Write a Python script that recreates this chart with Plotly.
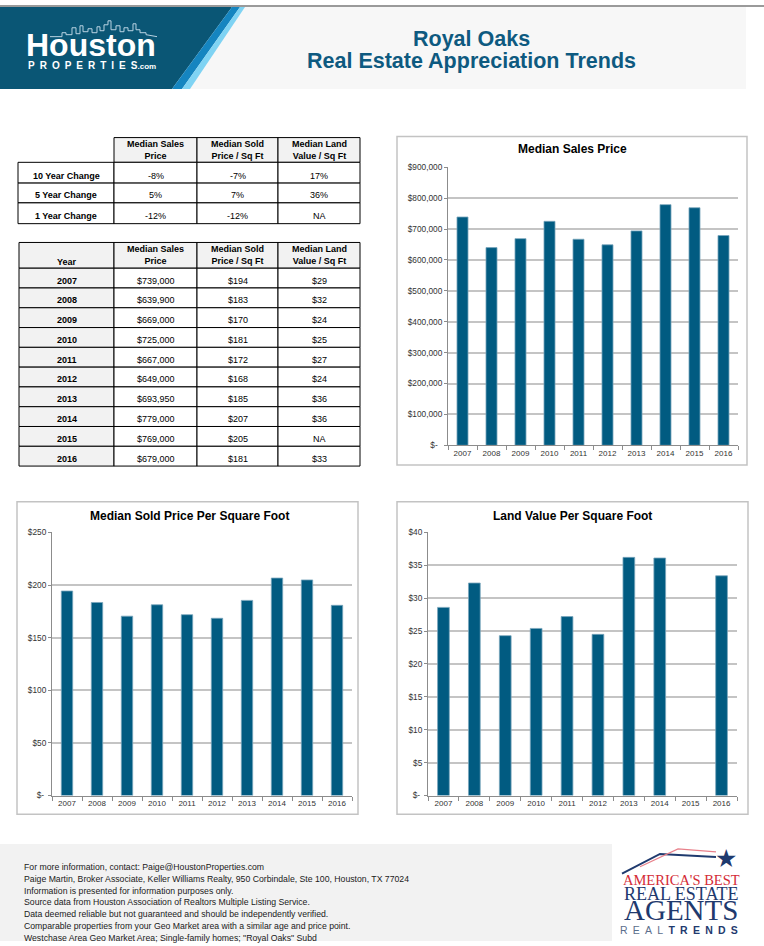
import plotly.graph_objects as go

W, H = 764, 946


def X(px):
    return px / W


def Y(py):
    return 1 - py / H


# ---------------- data ----------------
years = ["2007", "2008", "2009", "2010", "2011", "2012", "2013", "2014", "2015", "2016"]
median_sales_price = [739000, 639900, 669000, 725000, 667000, 649000, 693950, 779000, 769000, 679000]
sold_price_sqft = [194.3, 183.4, 170.4, 181.2, 171.8, 168.4, 185.4, 206.6, 204.8, 180.7]
land_value_sqft = [28.6, 32.3, 24.3, 25.4, 27.2, 24.5, 36.2, 36.1, None, 33.4]

sales_ticks = [0, 100000, 200000, 300000, 400000, 500000, 600000, 700000, 800000, 900000]
sales_tick_text = ["$-\u00a0\u00a0", "$100,000", "$200,000", "$300,000", "$400,000", "$500,000",
                   "$600,000", "$700,000", "$800,000", "$900,000"]
sqft_ticks = [0, 50, 100, 150, 200, 250]
sqft_tick_text = ["$-\u00a0", "$50", "$100", "$150", "$200", "$250"]
land_ticks = [0, 5, 10, 15, 20, 25, 30, 35, 40]
land_tick_text = ["$-\u00a0", "$5", "$10", "$15", "$20", "$25", "$30", "$35", "$40"]

table_headers = ["Median Sales<br>Price", "Median Sold<br>Price / Sq Ft", "Median Land<br>Value / Sq Ft"]
change_rows = ["10 Year Change", "5 Year Change", "1 Year Change"]
change_sales = ["-8%", "5%", "-12%"]
change_sqft = ["-7%", "7%", "-12%"]
change_land = ["17%", "36%", "NA"]

tbl_sales = ["$739,000", "$639,900", "$669,000", "$725,000", "$667,000",
             "$649,000", "$693,950", "$779,000", "$769,000", "$679,000"]
tbl_sqft = ["$194", "$183", "$170", "$181", "$172", "$168", "$185", "$207", "$205", "$181"]
tbl_land = ["$29", "$32", "$24", "$25", "$27", "$24", "$36", "$36", "NA", "$33"]

footer_lines = [
    "For more information, contact: Paige@HoustonProperties.com",
    "Paige Martin, Broker Associate, Keller Williams Realty, 950 Corbindale, Ste 100, Houston, TX 77024",
    "Information is presented for information purposes only.",
    "Source data from Houston Association of Realtors Multiple Listing Service.",
    "Data deemed reliable but not guaranteed and should be independently verified.",
    "Comparable properties from your Geo Market area with a similar age and price point.",
    "Westchase Area Geo Market Area; Single-family homes; \"Royal Oaks\" Subd",
]

# ---------------- styles ----------------
FONT = "Liberation Sans, Arial, sans-serif"
SERIF = "Liberation Serif, Times New Roman, serif"
BAR = "#015b81"
BAR_EDGE = "#7aa6bd"
NAVY_TITLE = "#0e5a80"
GRID = "#c4c4c4"
AXIS = "#8c8c8c"

shapes = []
annotations = []


def rect(x0, y0, x1, y1, fill=None, line=None, lw=1, layer="below"):
    shapes.append(dict(type="rect", xref="paper", yref="paper",
                       x0=X(x0), x1=X(x1), y0=Y(y1), y1=Y(y0),
                       fillcolor=fill if fill else "rgba(0,0,0,0)",
                       line=dict(color=line if line else "rgba(0,0,0,0)", width=lw if line else 0),
                       layer=layer))


def poly(points, fill=None, line=None, lw=1, closed=True):
    d = "M " + " L ".join(f"{X(a):.5f} {Y(b):.5f}" for a, b in points)
    if closed:
        d += " Z"
    shapes.append(dict(type="path", xref="paper", yref="paper", path=d,
                       fillcolor=fill if fill else "rgba(0,0,0,0)",
                       line=dict(color=line if line else "rgba(0,0,0,0)", width=lw if line else 0),
                       layer="below"))


def text(x, y, s, size=9, color="#000", bold=False, xanchor="center", font=FONT, yanchor="middle"):
    annotations.append(dict(x=X(x), y=Y(y), xref="paper", yref="paper", text=(f"<b>{s}</b>" if bold else s),
                            showarrow=False, xanchor=xanchor, yanchor=yanchor,
                            font=dict(family=font, size=size, color=color)))


# ---------------- header ----------------
rect(0, 0, 764, 2, fill="#9a9a9a")
rect(185, 2, 746, 85, fill="#f7f7f7")
poly([(0, 2), (232, 2), (172, 85), (0, 85)], fill="#0a5675")
poly([(232, 2), (240, 2), (182, 85), (172, 85)], fill="#1585c0")
poly([(240, 2), (245, 2), (190, 85), (182, 85)], fill="#7fd3f3")

skyline = [(50, 32), (62, 32), (62, 28), (66, 28), (66, 30), (72, 30), (72, 23), (76, 23), (76, 29),
           (80, 29), (80, 21), (83, 21), (83, 27), (88, 27), (88, 24), (92, 24), (92, 28), (97, 28),
           (97, 22), (100, 22), (100, 26), (104, 26), (104, 20), (108, 20), (108, 16), (111, 16),
           (111, 25), (116, 25), (116, 21), (120, 21), (120, 27), (124, 27), (124, 23), (128, 23),
           (128, 26), (133, 26), (133, 19), (136, 19), (136, 25), (140, 25), (140, 28), (146, 28),
           (146, 30), (157, 32)]
poly(skyline, line="#b9d3e2", lw=1, closed=False)

text(91, 40, "Houston", size=32, color="#ffffff", bold=True)
sp = "\u2002"
text(92, 61, "<b>" + sp.join("PROPERTIES") + "</b><span style='font-size:8px'><b>.com</b></span>",
     size=10, color="#ffffff")

text(471, 34, "Royal Oaks", size=21.5, color=NAVY_TITLE, bold=True)
text(471, 57, "Real Estate Appreciation Trends", size=21.5, color=NAVY_TITLE, bold=True)

# ---------------- table 1 (changes) ----------------
cols = [18, 114, 197, 278, 360]
t1_top, t1_head = 134, 159
t1_rows = [159, 180, 200, 221]
for c in range(1, 4):
    rect(cols[c], t1_top, cols[c + 1], t1_head, fill="#f2f2f2", line="#000", lw=1)
    text((cols[c] + cols[c + 1]) / 2, 147, table_headers[c - 1], size=9, bold=True)
for r in range(3):
    y0, y1 = t1_rows[r], t1_rows[r + 1]
    for c in range(4):
        rect(cols[c], y0, cols[c + 1], y1, fill="#ffffff", line="#000", lw=1)
    yc = y1 - 7.5
    text((cols[0] + cols[1]) / 2, yc, change_rows[r], size=9, bold=True)
    text((cols[1] + cols[2]) / 2, yc, change_sales[r], size=9)
    text((cols[2] + cols[3]) / 2, yc, change_sqft[r], size=9)
    text((cols[3] + cols[4]) / 2, yc, change_land[r], size=9)

# ---------------- table 2 (yearly) ----------------
cols2 = [19, 114, 197, 278, 360]
t2_top, t2_head = 240, 266
for c in range(4):
    rect(cols2[c], t2_top, cols2[c + 1], t2_head, fill="#f2f2f2", line="#000", lw=1)
text((cols2[0] + cols2[1]) / 2, 260, "Year", size=9, bold=True)
for c in range(1, 4):
    text((cols2[c] + cols2[c + 1]) / 2, 253, table_headers[c - 1], size=9, bold=True)
for i, yr in enumerate(years):
    y0 = t2_head + 20 * i
    y1 = y0 + 20
    for c in range(4):
        rect(cols2[c], y0, cols2[c + 1], y1, fill="#f2f2f2" if c == 0 else "#ffffff", line="#000", lw=1)
    yc = y0 + 12.5
    text((cols2[0] + cols2[1]) / 2, yc, yr, size=9, bold=True)
    text((cols2[1] + cols2[2]) / 2, yc, tbl_sales[i], size=9)
    text((cols2[2] + cols2[3]) / 2, yc, tbl_sqft[i], size=9)
    text((cols2[3] + cols2[4]) / 2, yc, tbl_land[i], size=9)

# ---------------- chart boxes & titles ----------------
rect(397, 133, 747, 465, line="#c3c3c3", lw=1.5)
rect(17, 502, 358, 818, line="#c3c3c3", lw=1.5)
rect(397, 502, 748, 818, line="#c3c3c3", lw=1.5)
text(572, 146, "Median Sales Price", size=12, bold=True)
text(189, 516, "Median Sold Price Per Square Foot", size=12, bold=True)
text(572, 516, "Land Value Per Square Foot", size=12, bold=True)

# ---------------- footer ----------------
rect(0, 848, 612, 946, fill="#f2f2f2")
foot_y = [871, 883, 895, 907, 919, 931, 943]
for s, fy in zip(footer_lines, foot_y):
    text(22, fy, s, size=8.7, color="#1a1a1a", xanchor="left")

# right logo
poly([(622, 878), (660, 858), (716, 861)], line="#1f3a6e", lw=2, closed=False)
poly([(640, 871), (678, 853), (716, 856)], line="#e8808a", lw=1.2, closed=False)
text(726, 863, "★", size=25, color="#1f3a6e", font="DejaVu Sans")
text(681, 884, "AMERICA'S BEST", size=14.5, color="#d42b36", font=SERIF)
text(681, 898, "REAL ESTATE", size=18, color="#1f3a6e", font=SERIF)
text(681, 915, "AGENTS", size=29, color="#1f3a6e", font=SERIF)
text(679, 935, "<span style='color:#5b6e8c'>" + sp.join("REAL") + "</span>" + sp
     + "<b>" + sp.join("TRENDS") + "</b>", size=10.5, color="#1f3a6e")

# ---------------- bar charts ----------------
fig = go.Figure()
fig.add_trace(go.Bar(x=years, y=median_sales_price, xaxis="x", yaxis="y",
                     marker=dict(color=BAR, line=dict(color=BAR_EDGE, width=0.8))))
fig.add_trace(go.Bar(x=years, y=sold_price_sqft, xaxis="x2", yaxis="y2",
                     marker=dict(color=BAR, line=dict(color=BAR_EDGE, width=0.8))))
fig.add_trace(go.Bar(x=years, y=land_value_sqft, xaxis="x3", yaxis="y3",
                     marker=dict(color=BAR, line=dict(color=BAR_EDGE, width=0.8))))


def xax(x0, x1, anchor):
    return dict(domain=[X(x0), X(x1)], anchor=anchor, type="category",
                showline=True, linecolor=AXIS, linewidth=1, ticks="outside", tickson="boundaries",
                ticklen=4, tickcolor=AXIS, showgrid=False, zeroline=False, fixedrange=True,
                tickfont=dict(family=FONT, size=8, color="#333"))


def yax(y_top, y_bot, anchor, rng, tv, tt):
    return dict(domain=[Y(y_bot), Y(y_top)], anchor=anchor, range=rng, tickvals=tv, ticktext=tt,
                showline=True, linecolor=AXIS, linewidth=1, ticks="outside", ticklen=3, tickcolor=AXIS,
                showgrid=True, gridcolor=GRID, gridwidth=1.5, zeroline=False, fixedrange=True,
                tickfont=dict(family=FONT, size=8.3, color="#333"))


fig.update_layout(
    width=W, height=H, margin=dict(l=0, r=0, t=0, b=0),
    paper_bgcolor="#ffffff", plot_bgcolor="rgba(0,0,0,0)",
    showlegend=False, bargap=0.62,
    xaxis=xax(448, 738, "y"),
    yaxis=yax(164, 445, "x", [0, 900000], sales_ticks, sales_tick_text),
    xaxis2=xax(52, 352, "y2"),
    yaxis2=yax(533, 799, "x2", [0, 250], sqft_ticks, sqft_tick_text),
    xaxis3=xax(428, 737, "y3"),
    yaxis3=yax(533, 799, "x3", [0, 40], land_ticks, land_tick_text),
    shapes=shapes, annotations=annotations,
    font=dict(family=FONT),
)

fig.write_html("out.html", config={"displayModeBar": False},
               post_script="document.body.style.margin='0';document.body.style.overflow='hidden';")
